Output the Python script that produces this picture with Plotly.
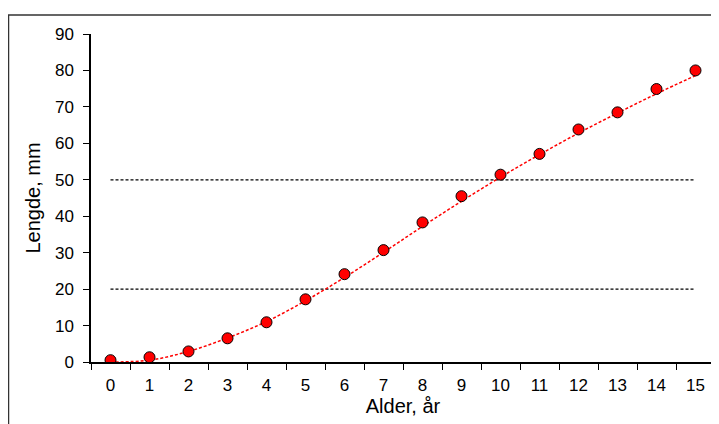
import plotly.graph_objects as go

ages = [str(i) for i in range(16)]
lengths = [0.5, 1.3, 2.9, 6.5, 10.9, 17.2, 24.1, 30.7, 38.3, 45.5, 51.4, 57.1, 63.8, 68.5, 74.9, 80.0]
trend = [0.0, 0.5, 2.9, 6.6, 11.1, 16.8, 23.2, 30.1, 37.2, 44.1, 50.7, 56.9, 62.8, 68.3, 73.6, 78.6]
ref_levels = [20, 50]
ref_span = ["0", "15"]
y_ticks = [0, 10, 20, 30, 40, 50, 60, 70, 80, 90]

FONT = "Liberation Sans, Arial, sans-serif"

fig = go.Figure()

for lvl in ref_levels:
    fig.add_trace(go.Scatter(
        x=ref_span, y=[lvl, lvl], mode="lines",
        line=dict(color="black", width=1.3, dash="3px,2px"),
        hoverinfo="skip", showlegend=False))

fig.add_trace(go.Scatter(
    x=ages, y=trend, mode="lines", line_shape="spline",
    line=dict(color="#ff0000", width=1.5, dash="3px,2px"),
    hoverinfo="skip", showlegend=False))

fig.add_trace(go.Scatter(
    x=ages, y=lengths, mode="markers",
    marker=dict(size=11, color="#ff0000", line=dict(color="black", width=1)),
    showlegend=False))

fig.update_layout(
    width=711, height=416,
    margin=dict(l=83, r=4, t=26, b=62),
    paper_bgcolor="white", plot_bgcolor="white",
    font=dict(family=FONT, size=17, color="black"),
    xaxis=dict(
        type="category", categoryorder="array", categoryarray=ages,
        range=[-0.5, 15.5], tickson="boundaries",
        ticks="outside", ticklen=6, tickcolor="black", tickwidth=1,
        showline=True, linecolor="black", linewidth=1.5,
        showgrid=False, zeroline=False,
        tickfont=dict(size=17), ticklabelstandoff=7,
        title=dict(text="Alder, år", font=dict(size=20), standoff=4),
    ),
    yaxis=dict(
        range=[0, 90], tickvals=y_ticks,
        ticks="outside", ticklen=6, tickcolor="black", tickwidth=1,
        showline=True, linecolor="black", linewidth=1.5,
        showgrid=False, zeroline=False,
        tickfont=dict(size=17), ticklabelstandoff=6,
        title=dict(text="Lengde, mm", font=dict(size=20), standoff=9),
    ),
    shapes=[dict(type="rect", xref="paper", yref="paper",
                 x0=-0.1322, x1=1.02, y0=-0.3, y1=1.058,
                 line=dict(color="#333333", width=1.5), layer="below")],
)

fig.write_html("out.html")
